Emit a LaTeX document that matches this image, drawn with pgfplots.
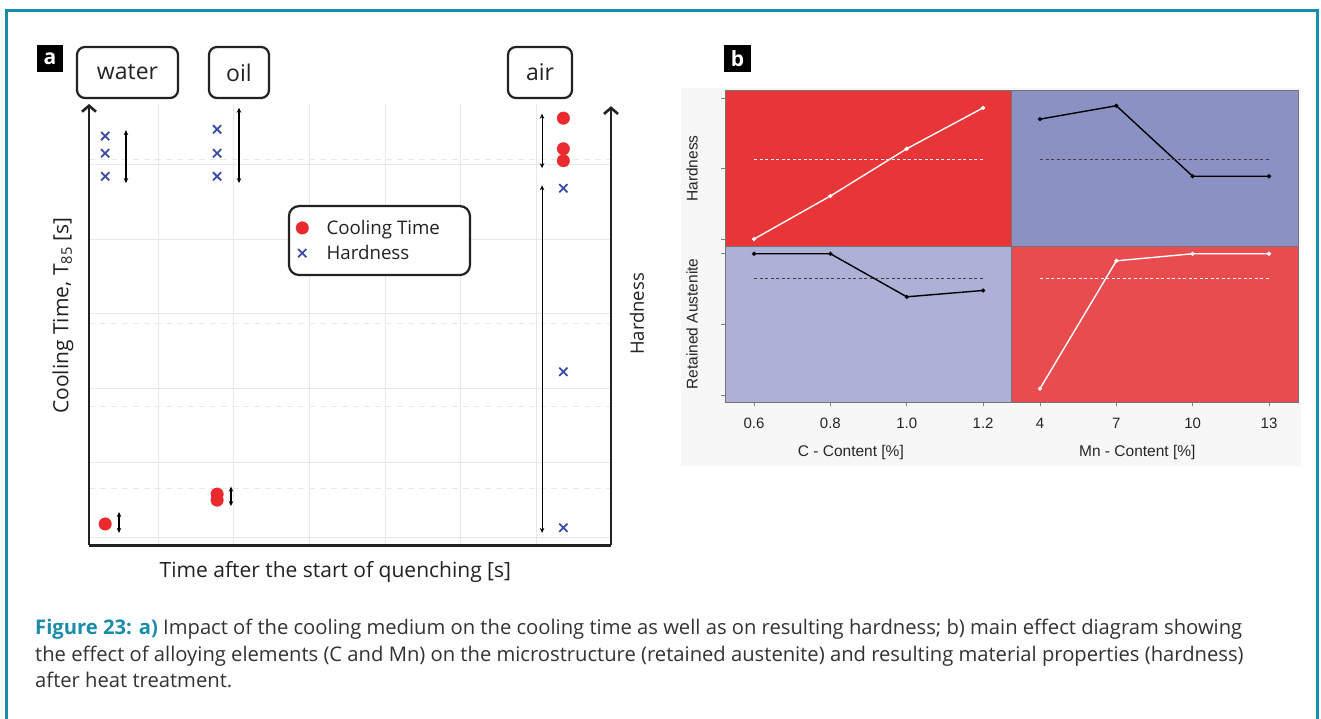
\documentclass[border=0pt]{standalone}
\usepackage{fontspec}
\setmainfont{Open Sans}
\newfontfamily\arial{Liberation Sans}
\usepackage{pgfplots}
\pgfplotsset{compat=1.18}
\usetikzlibrary{arrows.meta}
\definecolor{teal1}{HTML}{1A8CAA}
\definecolor{ptred}{HTML}{EA2A2F}
\definecolor{ptblue}{HTML}{3B4BA8}
\definecolor{bred}{HTML}{E83538}
\definecolor{bblue}{HTML}{8C91C4}
\definecolor{blav}{HTML}{ADB0D7}
\definecolor{bred2}{HTML}{E84C4F}
\definecolor{captxt}{HTML}{333333}
\definecolor{txt}{HTML}{222222}
\pgfplotsset{
  bpanel/.style={scale only axis, width=286pt,
    axis line style={draw=black!55, line width=0.6pt},
    tick style={draw=black!50, line width=0.6pt},
    major tick length=4pt, tick align=outside,
    xtick pos=bottom, ytick pos=left, clip=false,
    ticklabel style={font=\arial\fontsize{15}{15}\selectfont, text=black!85},
    label style={font=\arial\fontsize{15.5}{15}\selectfont, text=black!85},
    xticklabel style={anchor=center, yshift=-17pt},
    ylabel style={at={([xshift=-33pt]axis description cs:0,0.5)}, anchor=center},
    xlabel style={at={([yshift=-50pt]axis description cs:0.44,0)}, anchor=center},
  },
  bline/.style={line width=1.4pt, mark=*, mark size=1.3pt},
  bmean/.style={line width=0.7pt, dash pattern=on 3pt off 2.5pt},
}
\tikzset{arr/.style={black, line width=1.1pt, {Stealth[length=5pt,width=4.5pt]}-{Stealth[length=5pt,width=4.5pt]}}}
\begin{document}
\begin{tikzpicture}[x=1pt,y=1pt]
\useasboundingbox (0pt,0pt) rectangle (1321pt,718pt);
\begin{scope}
\clip (0pt,0pt) rectangle (1321pt,718pt);
\fill[white] (0pt,0pt) rectangle (1321pt,718pt);
\draw[teal1, line width=3pt] (6pt,-20pt) -- (6pt,707pt) -- (1317pt,707pt) -- (1317pt,-20pt);
\end{scope}

% ---------- panel a ----------
\node[fill=black, text=white, minimum width=26pt, minimum height=27pt, inner sep=0, font=\bfseries\fontsize{21}{21}\selectfont] at (50pt,659.5pt) {a};
\begin{scope}[every node/.style={draw=txt, line width=2.2pt, rounded corners=8pt, minimum height=51pt, inner sep=0, text=txt, font=\fontsize{23}{26}\selectfont}]
\node[minimum width=101pt] at (127.5pt,645.5pt) {water};
\node[minimum width=60pt] at (239pt,645.5pt) {oil};
\node[minimum width=64pt] at (540pt,645.5pt) {air};
\end{scope}

\begin{axis}[at={(89pt,173pt)}, anchor=south west, scale only axis,
  width=522pt, height=441pt,
  xmin=0.086, xmax=6.99, ymin=0.898, ymax=6.81,
  xtick={1,...,6}, ytick={1,...,6}, xticklabels={}, yticklabels={},
  major tick length=0pt,
  grid=major, major grid style={draw=black!9, line width=0.8pt},
  extra y ticks={1.66,2.76,3.87,4.99,6.07}, extra y tick labels={},
  extra y tick style={grid=major, major grid style={draw=black!9, dash pattern=on 6pt off 5pt, line width=0.8pt}},
  axis line style={draw=none}, clip=false,
  xlabel={Time after the start of quenching [s]},
  xlabel style={at={([yshift=-27pt]axis description cs:0.472,0)}, anchor=center, font=\fontsize{21}{24}\selectfont, text=txt},
  ylabel={Cooling Time, T\textsubscript{85} [s]},
  ylabel style={at={([xshift=-26pt]axis description cs:0,0.52)}, anchor=center, font=\fontsize{21}{24}\selectfont, text=txt},
  legend style={at={(0.381,0.771)}, anchor=north west, draw=txt, line width=2.2pt,
    rounded corners=10pt, font=\fontsize{18.7}{20}\selectfont, text=txt,
    inner xsep=7pt, inner ysep=12pt, row sep=5.5pt, column sep=16pt,
    nodes={inner sep=2pt}},
  legend cell align=left,
]
\addplot[only marks, mark=*, mark size=6.3pt, color=ptred, line width=0.3pt] coordinates {
 (0.30,1.18) (1.78,1.58) (1.78,1.50) (6.36,6.62) (6.36,6.21) (6.36,6.05)};
\addlegendentry{Cooling Time\hspace*{21pt}}
\addplot[only marks, mark=x, mark size=5.8pt, line width=1.8pt, color=ptblue] coordinates {
 (0.30,6.38) (0.30,6.15) (0.30,5.84) (1.78,6.47) (1.78,6.15) (1.78,5.84)
 (6.36,5.68) (6.36,3.22) (6.36,1.13)};
\addlegendentry{Hardness}
\addplot[arr, forget plot] coordinates {(0.575,6.46) (0.575,5.75)};
\addplot[arr, forget plot] coordinates {(2.07,6.76) (2.07,5.75)};
\addplot[arr, forget plot] coordinates {(6.078,6.68) (6.078,5.95)};
\addplot[arr, forget plot] coordinates {(6.078,5.72) (6.078,1.06)};
\addplot[arr, forget plot] coordinates {(0.483,1.34) (0.483,1.06)};
\addplot[arr, forget plot] coordinates {(1.964,1.68) (1.964,1.42)};
\draw[txt, line width=2.6pt, -{Straight Barb[length=6pt,width=14pt]}] (rel axis cs:0,0) -- (rel axis cs:0,1);
\draw[txt, line width=2.6pt, -{Straight Barb[length=6pt,width=14pt]}] (rel axis cs:1,0) -- (rel axis cs:1,0.995);
\draw[txt, line width=3pt] (rel axis cs:0,0) -- (rel axis cs:1,0);
\node[rotate=90, anchor=center, text=txt, font=\fontsize{18.5}{22}\selectfont] at ([xshift=26pt]rel axis cs:1,0.524) {Hardness};
\end{axis}

% ---------- panel b ----------
\fill[black!3] (681pt,252pt) rectangle (1301pt,630pt);
\node[fill=black, text=white, minimum width=27pt, minimum height=27pt, inner sep=0, font=\bfseries\fontsize{21}{21}\selectfont] at (737.5pt,659.5pt) {b};

\begin{axis}[bpanel, at={(725pt,471pt)}, anchor=south west, height=157pt,
  axis background/.style={fill=bred},
  xmin=0.524, xmax=1.273, ymin=0.887, ymax=3.113,
  xtick=\empty, ytick={1,2,3}, yticklabels={}, ylabel={Hardness}]
\addplot[white, bline] coordinates {(0.6,1.0) (0.8,1.61) (1.0,2.28) (1.2,2.86)};
\addplot[white, bmean] coordinates {(0.6,2.13) (1.2,2.13)};
\end{axis}

\begin{axis}[bpanel, at={(1011pt,471pt)}, anchor=south west, height=157pt, width=287pt,
  axis background/.style={fill=bblue},
  xmin=2.86, xmax=14.14, ymin=0.887, ymax=3.113,
  xtick=\empty, ytick=\empty]
\addplot[black, bline] coordinates {(4,2.70) (7,2.89) (10,1.89) (13,1.89)};
\addplot[black!75, bmean] coordinates {(4,2.13) (13,2.13)};
\end{axis}

\begin{axis}[bpanel, at={(725pt,316pt)}, anchor=south west, height=156pt,
  axis background/.style={fill=blav},
  xmin=0.524, xmax=1.273, ymin=0.90, ymax=3.11,
  xtick={0.6,0.8,1.0,1.2}, xticklabels={0.6,0.8,1.0,1.2},
  ytick={1,2,3}, yticklabels={},
  xlabel={C - Content [\%]}, ylabel={Retained Austenite}]
\addplot[black, bline] coordinates {(0.6,3.0) (0.8,3.0) (1.0,2.39) (1.2,2.48)};
\addplot[black!75, bmean] coordinates {(0.6,2.65) (1.2,2.65)};
\end{axis}

\begin{axis}[bpanel, at={(1011pt,316pt)}, anchor=south west, height=156pt, width=287pt,
  axis background/.style={fill=bred2},
  xmin=2.86, xmax=14.14, ymin=0.90, ymax=3.11,
  xtick={4,7,10,13}, xticklabels={4,7,10,13}, ytick=\empty,
  xlabel={Mn - Content [\%]}]
\addplot[white, bline] coordinates {(4,1.09) (7,2.90) (10,3.0) (13,3.0)};
\addplot[white, bmean] coordinates {(4,2.65) (13,2.65)};
\end{axis}

% ---------- caption ----------
\begin{scope}[every node/.style={anchor=base west, inner sep=0, text=captxt, font=\fontsize{20.2}{24}\selectfont}]
\node at (35pt,84pt) {\textcolor{teal1}{\bfseries Figure 23: a)} Impact of the cooling medium on the cooling time as well as on resulting hardness; b) main effect diagram showing};
\node at (35pt,57pt) {the effect of alloying elements (C and Mn) on the microstructure (retained austenite) and resulting material properties (hardness)};
\node at (35pt,31pt) {after heat treatment.};
\end{scope}
\end{tikzpicture}
\end{document}
